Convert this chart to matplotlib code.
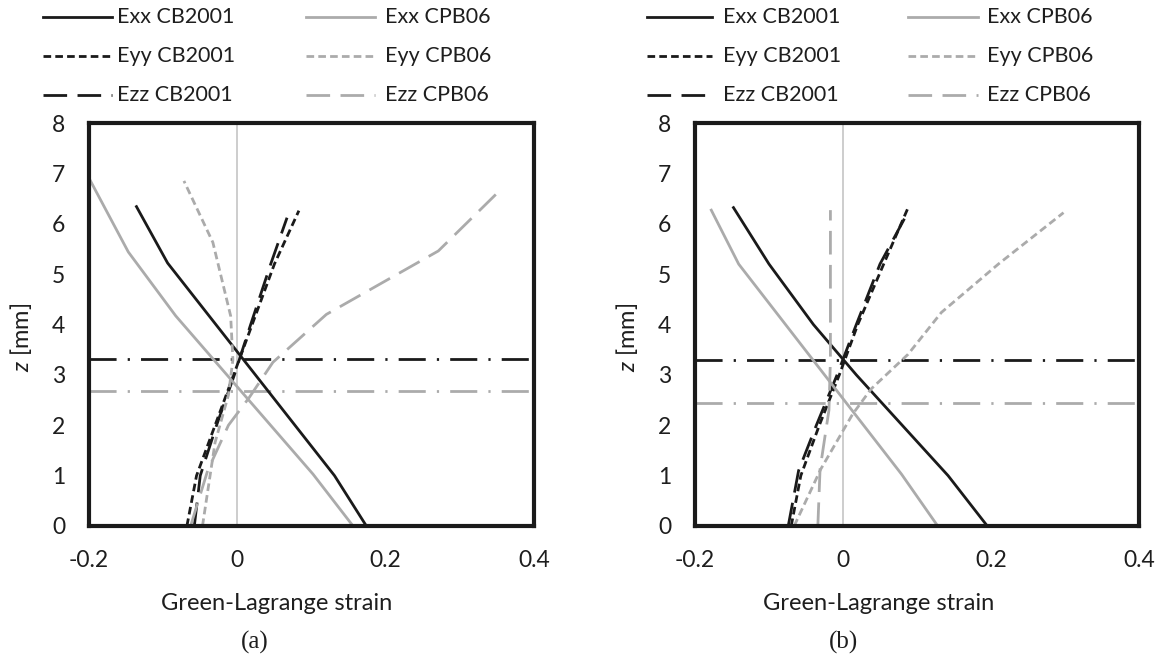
import matplotlib
matplotlib.use("Agg")
import matplotlib.pyplot as plt
from matplotlib.lines import Line2D

plt.rcParams['font.family'] = ['Lato', 'DejaVu Sans']
plt.rcParams['mathtext.fontset'] = 'custom'
plt.rcParams['mathtext.it'] = 'Lato:italic'
plt.rcParams['mathtext.rm'] = 'Lato'
plt.rcParams['lines.scale_dashes'] = False

# ---------------- data ----------------
# Panel (a)
a_exx_cb_x = [0.174, 0.131, -0.094, -0.136]
a_exx_cb_z = [0.0, 1.0, 5.22, 6.34]
a_eyy_cb_x = [-0.068, -0.055, -0.030, -0.005, 0.020, 0.050, 0.083]
a_eyy_cb_z = [0.0, 1.0, 2.0, 3.0, 4.0, 5.2, 6.26]
a_ezz_cb_x = [-0.058, -0.050, -0.028, -0.004, 0.018, 0.045, 0.067]
a_ezz_cb_z = [0.0, 1.0, 2.0, 3.0, 4.0, 5.2, 6.12]
a_exx_cpb_x = [0.156, 0.102, -0.083, -0.147, -0.198]
a_exx_cpb_z = [0.0, 1.03, 4.17, 5.44, 6.85]
a_eyy_cpb_x = [-0.047, -0.030, -0.012, -0.006, -0.009, -0.033, -0.072]
a_eyy_cpb_z = [0.0, 1.66, 2.6, 3.3, 4.17, 5.63, 6.85]
a_ezz_cpb_x = [-0.063, -0.040, -0.012, 0.016, 0.048, 0.120, 0.271, 0.356]
a_ezz_cpb_z = [0.0, 1.1, 2.0, 2.55, 3.25, 4.2, 5.46, 6.69]
a_neutral_cb = 3.31
a_neutral_cpb = 2.68

# Panel (b)
b_exx_cb_x = [0.195, 0.142, 0.080, 0.018, -0.040, -0.100, -0.148]
b_exx_cb_z = [0.0, 1.0, 2.0, 3.0, 4.0, 5.2, 6.32]
b_eyy_cb_x = [-0.070, -0.057, -0.032, -0.005, 0.020, 0.055, 0.088]
b_eyy_cb_z = [0.0, 1.0, 2.0, 3.0, 4.0, 5.2, 6.32]
b_ezz_cb_x = [-0.074, -0.060, -0.036, -0.008, 0.018, 0.050, 0.083]
b_ezz_cb_z = [0.0, 1.1, 2.0, 3.0, 4.0, 5.2, 6.1]
b_exx_cpb_x = [0.128, 0.079, -0.141, -0.178]
b_exx_cpb_z = [0.0, 1.03, 5.2, 6.27]
b_eyy_cpb_x = [-0.066, -0.030, 0.013, 0.038, 0.088, 0.133, 0.210, 0.298]
b_eyy_cpb_z = [0.0, 1.13, 2.22, 2.72, 3.41, 4.24, 5.2, 6.22]
b_ezz_cpb_x = [-0.034, -0.031, -0.019, -0.017, -0.017, -0.017, -0.017]
b_ezz_cpb_z = [0.0, 1.13, 2.3, 3.3, 4.2, 5.2, 6.27]
b_neutral_cb = 3.30
b_neutral_cpb = 2.44

x_ticks = [-0.2, 0, 0.2, 0.4]
x_tick_labels = ['-0.2', '0', '0.2', '0.4']
y_ticks = [0, 1, 2, 3, 4, 5, 6, 7, 8]
labels = ['Exx CB2001', 'Eyy CB2001', 'Ezz CB2001', 'Exx CPB06', 'Eyy CPB06', 'Ezz CPB06']
captions = ['(a)', '(b)']

# ---------------- styles ----------------
BLACK = '#1a1a1a'
GREY = '#ababab'
TXT = '#1e1e1e'
LW = 2.0
ls_solid = '-'
ls_short = (0, (5.5, 3.0))
ls_long = (0, (17.0, 7.5))
ls_dashdot = (0, (19.5, 8.0, 1.6, 8.0))
styles = [(BLACK, ls_solid), (BLACK, ls_short), (BLACK, ls_long),
          (GREY, ls_solid), (GREY, ls_short), (GREY, ls_long)]

W, H = 1162, 659
fig = plt.figure(figsize=(W / 100, H / 100), dpi=100)

def fx(px):
    return px / W

def fy(py):
    return 1 - py / H

panels = [
    dict(left=89, right=534, series=[(a_exx_cb_x, a_exx_cb_z), (a_eyy_cb_x, a_eyy_cb_z), (a_ezz_cb_x, a_ezz_cb_z),
                                     (a_exx_cpb_x, a_exx_cpb_z), (a_eyy_cpb_x, a_eyy_cpb_z), (a_ezz_cpb_x, a_ezz_cpb_z)],
         neutral=(a_neutral_cb, a_neutral_cpb), xlabel_px=277, cap_px=255,
         leg=(43, 112, 117, 306, 375, 385)),
    dict(left=695, right=1139, series=[(b_exx_cb_x, b_exx_cb_z), (b_eyy_cb_x, b_eyy_cb_z), (b_ezz_cb_x, b_ezz_cb_z),
                                       (b_exx_cpb_x, b_exx_cpb_z), (b_eyy_cpb_x, b_eyy_cpb_z), (b_ezz_cpb_x, b_ezz_cpb_z)],
         neutral=(b_neutral_cb, b_neutral_cpb), xlabel_px=879, cap_px=843,
         leg=(647, 712, 723, 908, 978, 987)),
]

TOP, BOT = 123, 526
FS_TICK = 16.5
FS_LAB = 17
FS_LEG = 15.5
for i, p in enumerate(panels):
    ax = fig.add_axes([fx(p['left']), fy(BOT), fx(p['right'] - p['left']), (BOT - TOP) / H])
    ax.set_xlim(-0.2, 0.4)
    ax.set_ylim(0, 8)
    ax.axvline(0, color='#c0c0c0', lw=1.1, zorder=1)
    for (xs, zs), (c, ls) in zip(p['series'], styles):
        ax.plot(xs, zs, color=c, ls=ls, lw=LW, dash_capstyle='butt', zorder=3)
    ax.plot([-0.2, 0.4], [p['neutral'][0]] * 2, color=BLACK, ls=ls_dashdot, lw=LW, zorder=2)
    ax.plot([-0.2, 0.4], [p['neutral'][1]] * 2, color=GREY, ls=ls_dashdot, lw=LW, zorder=2)
    for s in ax.spines.values():
        s.set_linewidth(3.0)
        s.set_color(BLACK)
        s.set_zorder(5)
    ax.set_xticks(x_ticks)
    ax.set_xticklabels(x_tick_labels)
    ax.set_yticks(y_ticks)
    ax.tick_params(length=0, labelsize=FS_TICK, colors=TXT)
    ax.tick_params(axis='x', pad=17)
    ax.tick_params(axis='y', pad=17)
    ax.set_xlabel('Green-Lagrange strain', fontsize=FS_LAB, color=TXT)
    ax.xaxis.set_label_coords((p['xlabel_px'] - p['left']) / (p['right'] - p['left']), (BOT - 603) / (BOT - TOP))
    ax.xaxis.label.set_va('center')
    ax.set_ylabel('$z$ [mm]', fontsize=FS_LAB, color=TXT)
    ax.yaxis.set_label_coords(-68 / (p['right'] - p['left']), (BOT - 337) / (BOT - TOP))
    ax.yaxis.label.set_va('center')
    fig.text(fx(p['cap_px']), fy(642), captions[i], ha='center', va='center',
             fontsize=18, family='Liberation Serif', color=TXT)

    # legend
    h1a, h1b, t1, h2a, h2b, t2 = p['leg']
    rows = [17, 56, 95]
    for k in range(6):
        col = k // 3
        r = rows[k % 3]
        c, ls = styles[k]
        xa, xb, tx = (h1a, h1b, t1) if col == 0 else (h2a, h2b, t2)
        fig.add_artist(Line2D([fx(xa), fx(xb)], [fy(r), fy(r)], transform=fig.transFigure,
                              color=c, ls=ls, lw=LW, dash_capstyle='butt'))
        fig.text(fx(tx), fy(r), labels[k], ha='left', va='center', fontsize=FS_LEG, color=TXT)

fig.savefig('out.png', dpi=100)
